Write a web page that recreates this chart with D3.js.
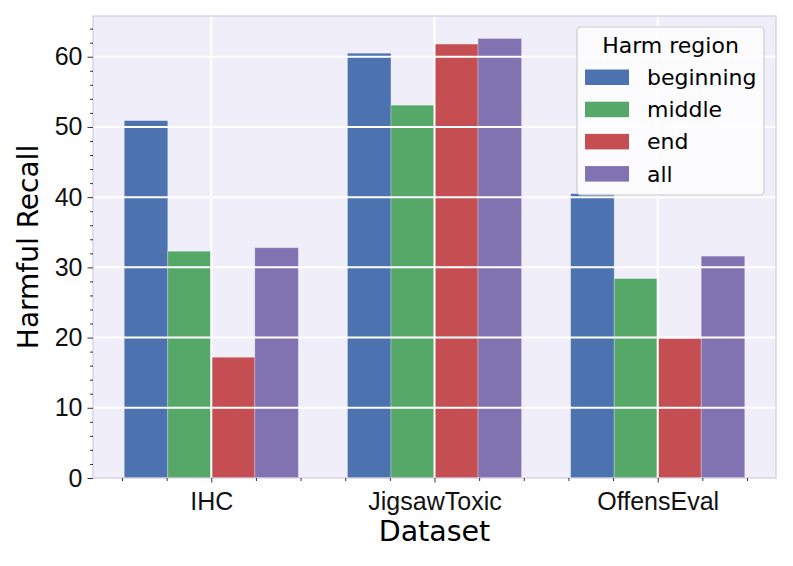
<!DOCTYPE html>
<html>
<head>
<meta charset="utf-8">
<script src="https://cdn.jsdelivr.net/npm/d3@7"></script>
<style>
  body { margin: 0; background: #fff; }
  svg { font-family: "DejaVu Sans", sans-serif; }
</style>
</head>
<body>
<svg width="793" height="566"></svg>
<script>
var datasets = ["IHC", "JigsawToxic", "OffensEval"];
var regions = ["beginning", "middle", "end", "all"];
var beginning = [50.9, 60.5, 40.5];
var middle = [32.3, 53.1, 28.4];
var endVals = [17.2, 61.8, 19.9];
var allVals = [32.8, 62.6, 31.6];
var yTicks = [0, 10, 20, 30, 40, 50, 60];

var series = [beginning, middle, endVals, allVals];
var colors = ["#4c72b0", "#55a868", "#c44e52", "#8172b2"];

var svg = d3.select("svg"),
    pL = 93, pR = 776, pT = 16, pB = 478;

var x = d3.scaleLinear().domain([-0.53, 2.53]).range([pL, pR]);
var y = d3.scaleLinear().domain([0, 65.8]).range([pB, pT]);
var barW = 0.195;

// axes background
svg.append("rect")
    .attr("x", pL).attr("y", pT)
    .attr("width", pR - pL).attr("height", pB - pT)
    .attr("fill", "#f0eef9");

// bars
series.forEach(function(vals, j) {
    svg.append("g").selectAll("rect")
        .data(vals)
        .enter().append("rect")
            .attr("x", function(d, i) { return x(i + (j - 2) * barW); })
            .attr("width", x(barW) - x(0))
            .attr("y", function(d) { return y(d); })
            .attr("height", function(d) { return y(0) - y(d); })
            .attr("fill", colors[j])
            .attr("stroke", "#ffffff")
            .attr("stroke-opacity", 0.35)
            .attr("stroke-width", 0.8);
});

// grid on top of bars
var grid = svg.append("g").attr("stroke", "#fff").attr("stroke-width", 2);
grid.selectAll("line.h").data(yTicks.slice(1)).enter().append("line")
    .attr("x1", pL).attr("x2", pR)
    .attr("y1", function(d) { return y(d); }).attr("y2", function(d) { return y(d); });
grid.selectAll("line.v").data(d3.range(datasets.length)).enter().append("line")
    .attr("y1", pT).attr("y2", pB)
    .attr("x1", function(d) { return x(d); }).attr("x2", function(d) { return x(d); });

// spines
svg.append("rect")
    .attr("x", pL).attr("y", pT)
    .attr("width", pR - pL).attr("height", pB - pT)
    .attr("fill", "none").attr("stroke", "#d3cfe6").attr("stroke-width", 1.3);

// y axis
var yMinor = d3.range(0, 66, 2).filter(function(d) { return d % 10 !== 0; });
svg.append("g")
    .attr("transform", "translate(" + pL + ",0)")
    .call(d3.axisLeft(y).tickValues(yMinor).tickSize(3).tickFormat(""))
    .call(function(g) { g.select(".domain").remove(); });
svg.append("g")
    .attr("transform", "translate(" + pL + ",0)")
    .call(d3.axisLeft(y).tickValues(yTicks).tickSize(5.5).tickPadding(5))
    .call(function(g) { g.select(".domain").remove(); })
    .selectAll("text")
        .style("font-size", "25px")
        .attr("fill", "#111");

// x axis
var xMinor = d3.range(-2, 13).map(function(k) { return k * 0.2; })
    .filter(function(d) { return Math.abs(d - Math.round(d)) > 0.01; });
svg.append("g")
    .attr("transform", "translate(0," + pB + ")")
    .call(d3.axisBottom(x).tickValues(xMinor).tickSize(3).tickFormat(""))
    .call(function(g) { g.select(".domain").remove(); });
svg.append("g")
    .attr("transform", "translate(0," + pB + ")")
    .call(d3.axisBottom(x).tickValues([0, 1, 2]).tickSize(4.5)
        .tickPadding(10).tickFormat(function(d) { return datasets[d]; }))
    .call(function(g) { g.select(".domain").remove(); })
    .selectAll("text")
        .style("font-size", "25px")
        .attr("fill", "#111");

svg.selectAll(".tick line").attr("stroke", "#333");

// axis titles
svg.append("text")
    .attr("x", (pL + pR) / 2).attr("y", 541)
    .attr("text-anchor", "middle")
    .style("font-size", "28.5px")
    .text("Dataset");
svg.append("text")
    .attr("transform", "translate(38," + (pT + pB) / 2 + ") rotate(-90)")
    .attr("text-anchor", "middle")
    .style("font-size", "28px")
    .text("Harmful Recall");

// legend
var legend = svg.append("g").attr("transform", "translate(577,27)");
legend.append("rect")
    .attr("width", 187).attr("height", 168).attr("rx", 4)
    .attr("fill", "#fff").attr("fill-opacity", 0.8)
    .attr("stroke", "#cccccc").attr("stroke-width", 1.2);
legend.append("text")
    .attr("x", 93.5).attr("y", 26)
    .attr("text-anchor", "middle")
    .style("font-size", "22px")
    .text("Harm region");
regions.forEach(function(r, j) {
    var by = 58 + j * 32.2;
    legend.append("rect")
        .attr("x", 8).attr("y", by - 15.5)
        .attr("width", 44).attr("height", 15.5)
        .attr("fill", colors[j]);
    legend.append("text")
        .attr("x", 70).attr("y", by)
        .style("font-size", "22px")
        .text(r);
});
</script>
</body>
</html>
